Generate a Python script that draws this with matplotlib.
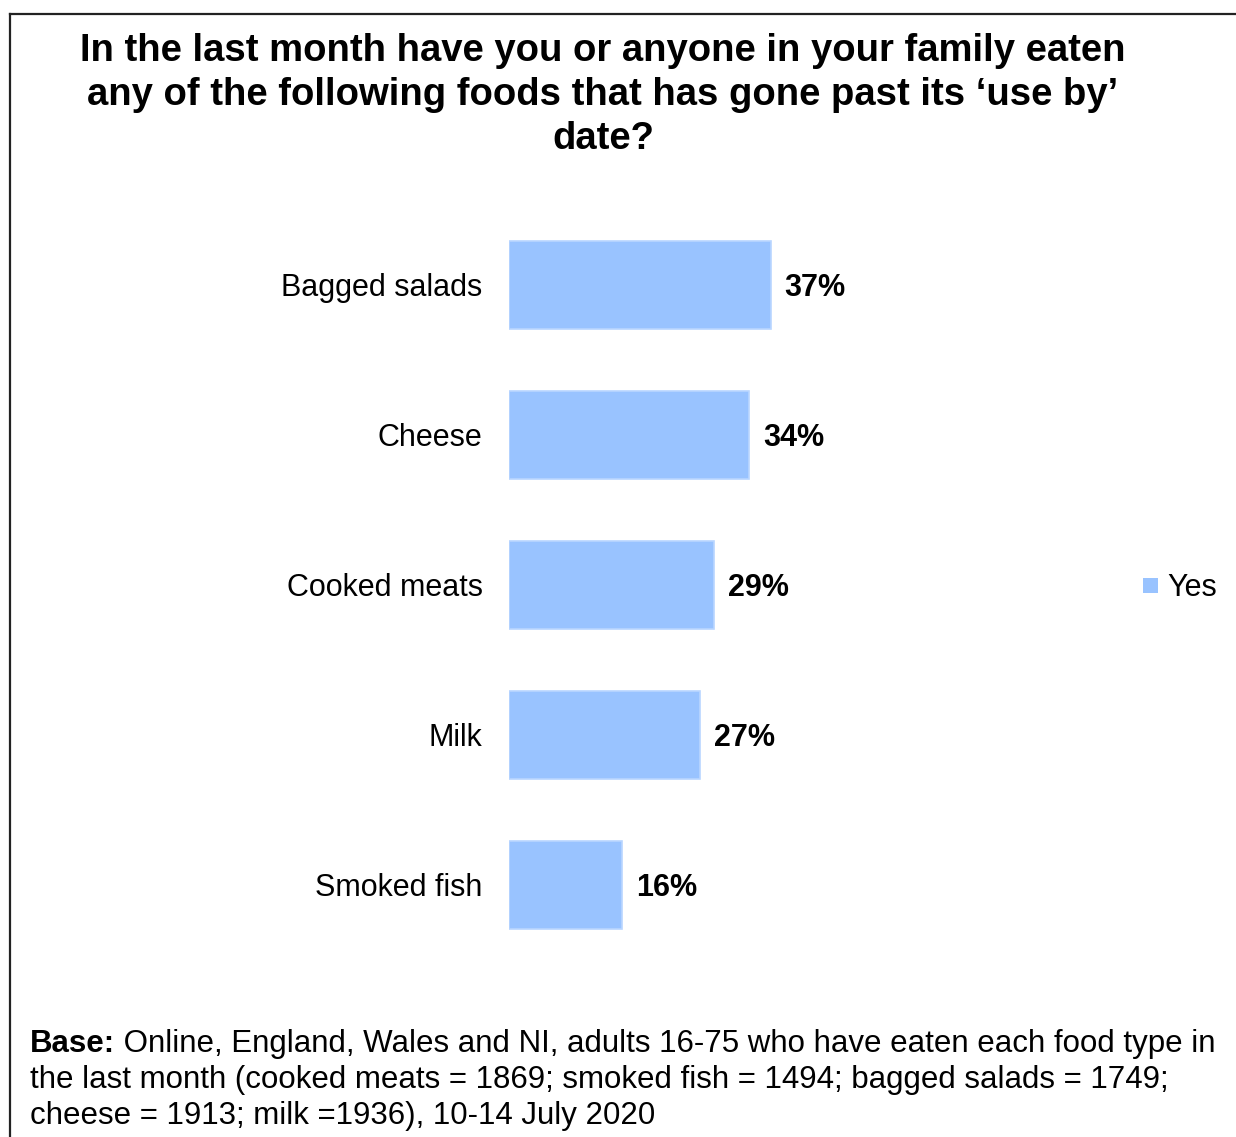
import matplotlib
matplotlib.use("Agg")
import matplotlib.pyplot as plt
from matplotlib.lines import Line2D
from matplotlib.patches import Rectangle

plt.rcParams['font.family'] = ['Liberation Sans', 'DejaVu Sans']

# Survey data
categories = ["Bagged salads", "Cheese", "Cooked meats", "Milk", "Smoked fish"]
yes_pct = [37, 34, 29, 27, 16]
series_name = "Yes"

title = ("In the last month have you or anyone in your family eaten\n"
         "any of the following foods that has gone past its \u2018use by\u2019\n"
         "date?")
base_label = "Base:"
base_lines = [
    " Online, England, Wales and NI, adults 16-75 who have eaten each food type in",
    "the last month (cooked meats = 1869; smoked fish = 1494; bagged salads = 1749;",
    "cheese = 1913; milk =1936), 10-14 July 2020",
]

W, H = 1236, 1137
fig = plt.figure(figsize=(W / 100, H / 100), dpi=100)
fig.patch.set_facecolor("white")

def fx(px):
    return px / W

def fy(py):
    return 1 - py / H

bar_color = "#99C3FF"
edge_color = "#B9D6FF"

# Plot area: one category per 150 px, 1% = ~7.07 px
ax = fig.add_axes([fx(509), fy(960), fx(509 + 353.5) - fx(509), fy(210) - fy(960)])
ypos = list(range(len(categories)))
ax.barh(ypos, yes_pct, height=0.587, color=bar_color, edgecolor=edge_color,
        linewidth=1.2, label=series_name)
ax.set_xlim(0, 50)
ax.set_ylim(len(categories) - 0.5, -0.5)
ax.set_yticks(ypos)
ax.set_yticklabels(categories, fontsize=22)
ax.tick_params(axis="y", length=0, pad=19)
ax.set_xticks([])
for s in ax.spines.values():
    s.set_visible(False)

for y, v in zip(ypos, yes_pct):
    ax.annotate(f"{v}%", xy=(v, y), xytext=(14, -3), textcoords="offset pixels",
                ha="left", va="center", fontsize=22, fontweight="bold")

# Legend on the right
fig.patches.append(Rectangle((fx(1143), fy(593)), fx(15), fy(578) - fy(593),
                             transform=fig.transFigure, facecolor=bar_color,
                             edgecolor="none"))
fig.text(fx(1167), fy(588), series_name, ha="left", va="center", fontsize=22)

# Title
fig.text(fx(603), fy(33), title, ha="center", va="top", fontsize=27.5,
         fontweight="bold", linespacing=1.29)

# Footnote
fig.canvas.draw()
r = fig.canvas.get_renderer()
t0 = fig.text(fx(30), fy(1052), base_label, ha="left", va="baseline",
              fontsize=22.5, fontweight="bold")
bb = t0.get_window_extent(r)
fig.text(fx(bb.x1), fy(1052), base_lines[0], ha="left", va="baseline", fontsize=22.5)
fig.text(fx(30), fy(1088), base_lines[1], ha="left", va="baseline", fontsize=22.5)
fig.text(fx(30), fy(1124), base_lines[2], ha="left", va="baseline", fontsize=22.5)

# Frame lines (top and left)
fig.add_artist(Line2D([fx(10), fx(1236)], [fy(14), fy(14)], color="#222222", lw=1.6))
fig.add_artist(Line2D([fx(10), fx(10)], [fy(14), fy(1137)], color="#222222", lw=1.6))

fig.savefig("out.png", dpi=100)
